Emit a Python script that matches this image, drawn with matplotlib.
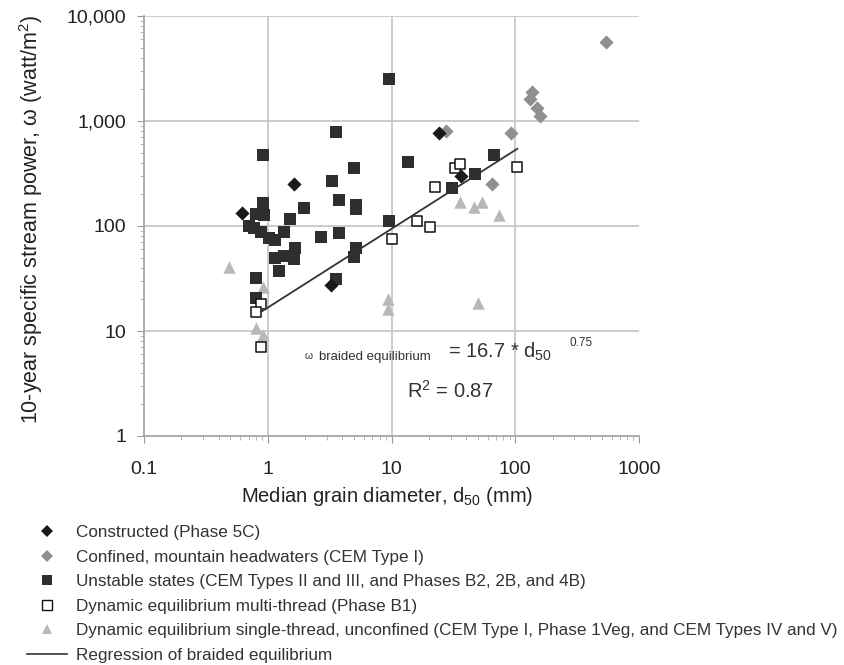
import numpy as np
import matplotlib
matplotlib.use('Agg')
import matplotlib.pyplot as plt
from matplotlib.lines import Line2D

plt.rcParams['font.family'] = ['Liberation Sans', 'DejaVu Sans']
plt.rcParams['mathtext.fontset'] = 'custom'
plt.rcParams['mathtext.rm'] = 'Liberation Sans'
plt.rcParams['mathtext.it'] = 'Liberation Sans'

# Constructed (Phase 5C)
constructed_d50 = [0.615, 1.63, 3.25, 24.1, 36.3]
constructed_sp = [133, 251, 27.4, 769, 299]

# Confined, mountain headwaters (CEM Type I)
confined_d50 = [27.5, 65, 92.7, 137, 132, 151, 159, 538]
confined_sp = [800, 250, 769, 1890, 1620, 1330, 1117, 5650]

# Unstable states
unstable_d50 = [3.57, 0.91, 3.31, 0.91, 3.8, 1.95, 0.81, 0.93, 1.51, 0.71,
                0.78, 0.89, 1.35, 2.7, 3.8, 1.02, 1.14, 1.66, 1.14, 1.35,
                1.63, 1.23, 3.57, 0.81, 0.81, 9.6, 13.5, 67.5, 47.3, 30.7,
                5.0, 5.2, 5.2, 9.6, 5.2, 5.0]
unstable_sp = [785, 475, 268, 166, 177, 150, 130, 127, 117, 100,
               95, 88, 88, 78.6, 86, 77, 73, 62, 49.6, 51.9,
               48, 37, 31, 32, 20.6, 2510, 407, 475, 313, 230,
               360, 158, 145, 112, 62, 51]

# Dynamic equilibrium multi-thread (Phase B1)
multi_d50 = [0.89, 0.80, 0.89, 10, 16, 20.4, 22.4, 32.5, 35.7, 104]
multi_sp = [18.1, 15.2, 7.0, 75, 112, 98, 235, 357, 389, 365]

# Dynamic equilibrium single-thread, unconfined
single_d50 = [0.49, 0.91, 0.8, 0.91, 9.45, 9.45, 50, 35.8, 46.4, 53.8, 74]
single_sp = [40.7, 26, 10.7, 9.2, 20.2, 16.2, 18.5, 169, 151, 169, 127]

# regression: omega = 16.7 * d50^0.75
reg_coef = 16.7
reg_exp = 0.75
reg_range = [0.88, 104]

xticks = [0.1, 1, 10, 100, 1000]
xticklabels = ['0.1', '1', '10', '100', '1000']
yticks = [1, 10, 100, 1000, 10000]
yticklabels = ['1', '10', '100', '1,000', '10,000']

fig = plt.figure(figsize=(8.44, 6.65), dpi=100)
W, H = 844, 665
ax = fig.add_axes([144 / W, 1 - 436 / H, (639 - 144) / W, (436 - 16) / H])

ax.set_xscale('log')
ax.set_yscale('log')
ax.set_xlim(0.1, 1000)
ax.set_ylim(1, 10000)

ax.scatter(single_d50, single_sp, marker='^', s=80, color='#b8b8b8', zorder=3, linewidths=0)
ax.scatter(confined_d50, confined_sp, marker='D', s=52, color='#8f8f8f', zorder=3, linewidths=0)
ax.scatter(unstable_d50, unstable_sp, marker='s', s=66, color='#2e2e2e', zorder=4, linewidths=0)
ax.scatter(multi_d50, multi_sp, marker='s', s=60, facecolor='white', edgecolor='#111111',
           linewidths=1.1, zorder=4)
ax.scatter(constructed_d50, constructed_sp, marker='D', s=52, color='#1a1a1a', zorder=5, linewidths=0)

xr = np.logspace(np.log10(reg_range[0]), np.log10(reg_range[1]), 50)
ax.plot(xr, reg_coef * xr ** reg_exp, color='#333333', lw=1.3, zorder=6)

ax.set_xticks(xticks)
ax.set_xticklabels(xticklabels)
ax.set_yticks(yticks)
ax.set_yticklabels(yticklabels)
ax.tick_params(which='major', length=5, color='#999999', labelsize=14, pad=8, labelcolor='#222222')
ax.tick_params(which='minor', length=3, color='#aaaaaa')
ax.tick_params(axis='x', pad=13)
ax.yaxis.set_minor_formatter(matplotlib.ticker.NullFormatter())
ax.xaxis.set_minor_formatter(matplotlib.ticker.NullFormatter())

ax.grid(True, which='major', color='#c8c8c8', lw=1.3)
ax.set_axisbelow(True)
for t in ax.xaxis.get_major_ticks():
    if t.get_loc() in (0.1, 1000):
        t.gridline.set_visible(False)
for t in ax.yaxis.get_major_ticks():
    if t.get_loc() == 1:
        t.gridline.set_visible(False)
for s in ['top', 'right']:
    ax.spines[s].set_visible(False)
for s in ['left', 'bottom']:
    ax.spines[s].set_color('#a0a0a0')
    ax.spines[s].set_linewidth(1.2)

fig.text(31 / W, 1 - 220 / H, '10-year specific stream power, ω (watt/m$^2$)',
         rotation=90, ha='center', va='center', fontsize=15.5, color='#222222')
fig.text(387 / W, 1 - 497 / H, 'Median grain diameter, d$_{50}$ (mm)',
         ha='center', va='center', fontsize=14.5, color='#222222')

# equation annotation
fig.text(305 / W, 1 - 359 / H, 'ω', fontsize=7.5,
         ha='left', va='baseline', color='#333333')
fig.text(319 / W, 1 - 360 / H, 'braided equilibrium', fontsize=9.5,
         ha='left', va='baseline', color='#333333')
fig.text(448 / W, 1 - 358 / H, '= 16.7 * d$_{50}$', fontsize=14.5,
         ha='left', va='baseline', color='#333333')
fig.text(570 / W, 1 - 346 / H, '0.75', fontsize=8.5,
         ha='left', va='baseline', color='#333333')
fig.text(407 / W, 1 - 398 / H, 'R$^2$ = 0.87', fontsize=14.5,
         ha='left', va='baseline', color='#333333')

handles = [
    Line2D([], [], ls='none', marker='D', ms=6, color='#1a1a1a', mew=0),
    Line2D([], [], ls='none', marker='D', ms=6, color='#8f8f8f', mew=0),
    Line2D([], [], ls='none', marker='s', ms=6.5, color='#2e2e2e', mew=0),
    Line2D([], [], ls='none', marker='s', ms=6.5, mfc='white', mec='#111111', mew=1),
    Line2D([], [], ls='none', marker='^', ms=7.5, color='#b8b8b8', mew=0),
    Line2D([], [], color='#333333', lw=1.2),
]
labels = [
    'Constructed (Phase 5C)',
    'Confined, mountain headwaters (CEM Type I)',
    'Unstable states (CEM Types II and III, and Phases B2, 2B, and 4B)',
    'Dynamic equilibrium multi-thread (Phase B1)',
    'Dynamic equilibrium single-thread, unconfined (CEM Type I, Phase 1Veg, and CEM Types IV and V)',
    'Regression of braided equilibrium',
]
leg = fig.legend(handles, labels, loc='upper left', bbox_to_anchor=(27 / W, 1 - 525 / H),
                 frameon=False, fontsize=12.3, handlelength=2.34, handletextpad=0.53,
                 labelspacing=0.56, borderpad=0, borderaxespad=0)
for t in leg.get_texts():
    t.set_color('#333333')

fig.savefig('out.png', dpi=100)
